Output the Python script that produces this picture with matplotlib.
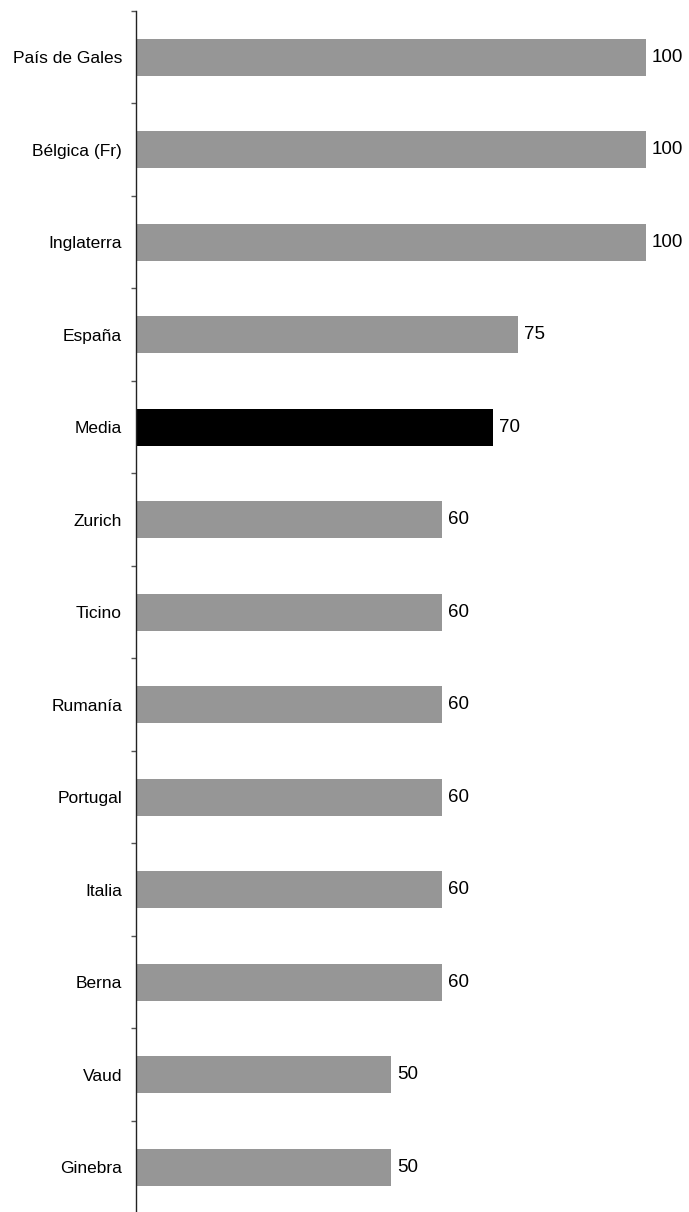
import numpy as np
import matplotlib.pyplot as plt

# Data
categories = ["País de Gales", "Bélgica (Fr)", "Inglaterra", "España", "Media",
              "Zurich", "Ticino", "Rumanía", "Portugal", "Italia", "Berna",
              "Vaud", "Ginebra"]
values = [100, 100, 100, 75, 70, 60, 60, 60, 60, 60, 60, 50, 50]
highlight = "Media"

plt.rcParams['font.family'] = ['Liberation Sans', 'DejaVu Sans']

W, H = 689, 1212
fig = plt.figure(figsize=(W / 100, H / 100), dpi=100)
# axes placed in pixel terms: axis line x=136, top y=11, bottom just past the figure
ax = fig.add_axes([136 / W, 1 - 1213.5 / H, (645.5 - 136) / W, (1213.5 - 11) / H])

y = np.arange(len(categories))
colors = ["#000000" if c == highlight else "#969696" for c in categories]
ax.barh(y, values, height=0.4, color=colors, zorder=2)

for yi, v in zip(y, values):
    ax.text(v + 1.2, yi, str(v), va="center", ha="left", fontsize=13.5)

ax.set_xlim(0, 100)
ax.set_ylim(len(categories) - 0.5, -0.5)

# category labels, ticks at the boundaries
ax.set_yticks(y)
ax.set_yticklabels(categories, fontsize=12.5)
ax.tick_params(axis="y", which="major", length=0, pad=10)
ax.set_yticks(np.arange(-0.5, len(categories) + 0.5, 1), minor=True)
ax.tick_params(axis="y", which="minor", length=3.5, width=1, direction="out", color="#555555")

ax.set_xticks([])
for s in ["top", "right", "bottom"]:
    ax.spines[s].set_visible(False)
ax.spines["left"].set_linewidth(1)
ax.spines["left"].set_color("#222222")

fig.savefig("out.png", dpi=100)
